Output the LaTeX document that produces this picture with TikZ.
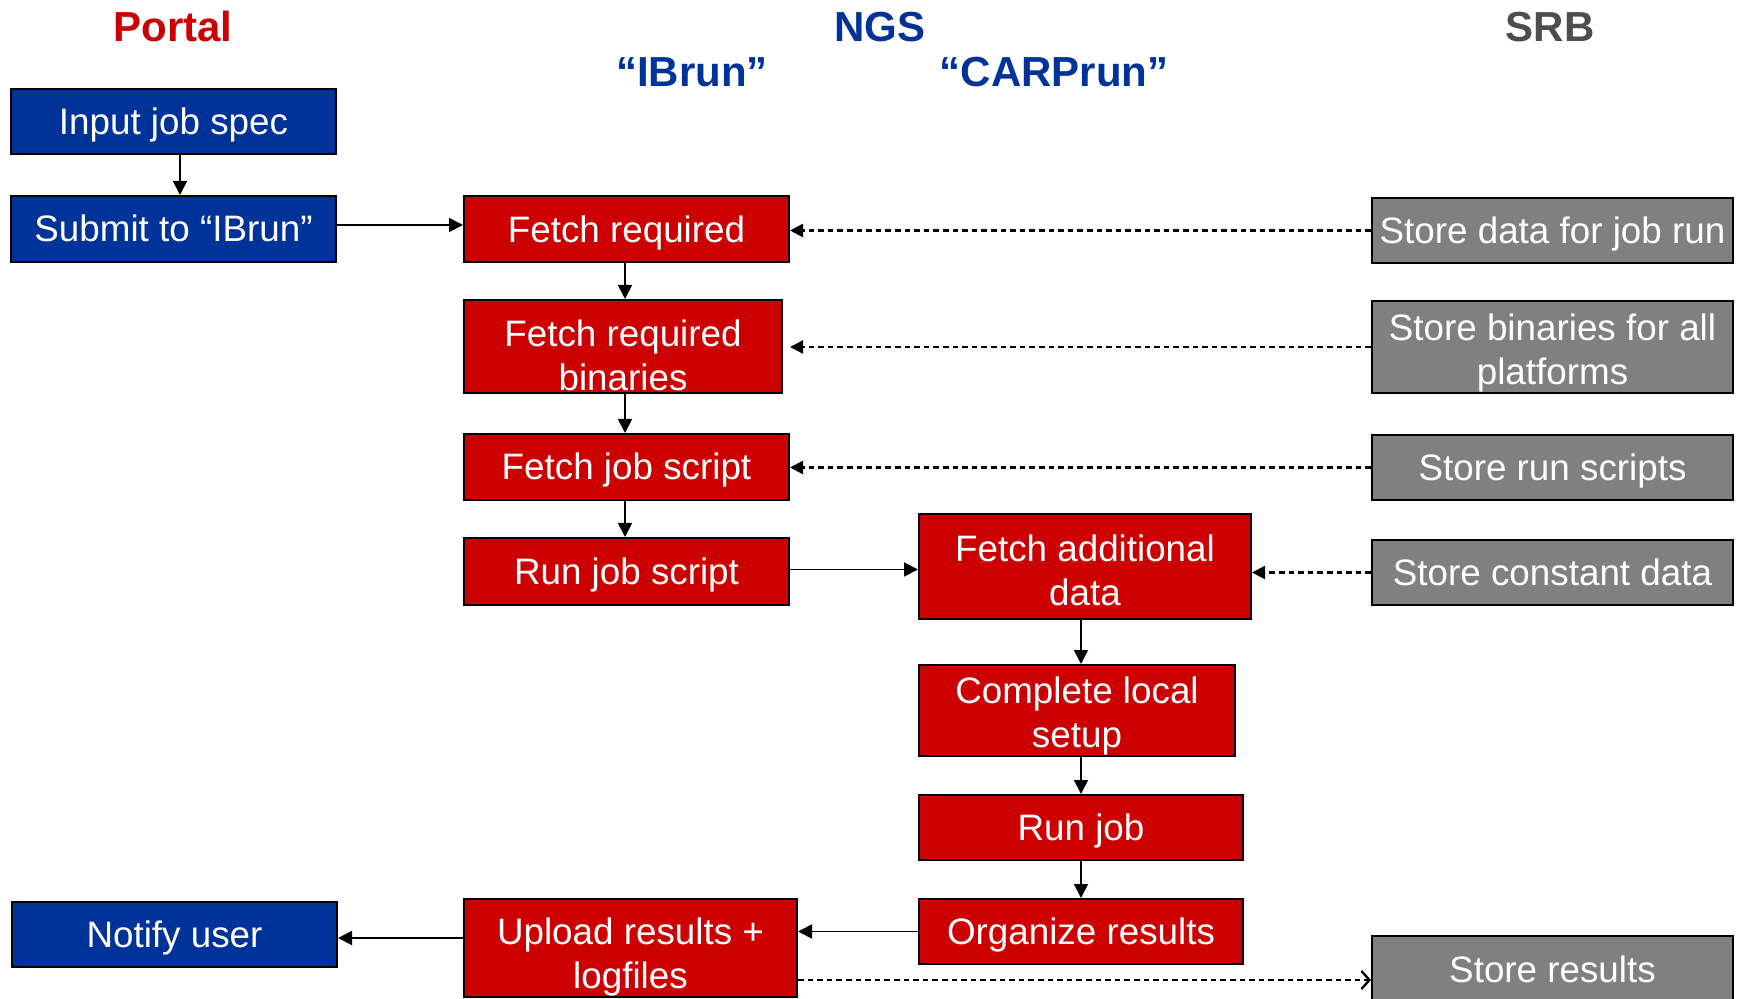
\documentclass[tikz,border=0pt]{standalone}
\usepackage{fontspec}
\setmainfont{Liberation Sans}
\usetikzlibrary{arrows.meta}
\definecolor{portalblue}{HTML}{003399}
\definecolor{ngsred}{HTML}{CC0000}
\definecolor{srbgray}{HTML}{808080}
\definecolor{srbtitle}{HTML}{4D4D4D}

% box label, set lower by #1 while the box keeps its centred size
\newcommand{\boxlabel}[2][2pt]{\raisebox{-#1}[\height][\depth]{\begin{tabular}{@{}c@{}}#2\end{tabular}}}

\begin{document}
\begin{tikzpicture}[x=0.5pt,y=-0.5pt,
  box/.style={draw=black, line width=1pt, text=white, inner sep=0pt,
              font=\fontsize{18.4}{22}\selectfont},
  portalbox/.style={box, fill=portalblue},
  ngsbox/.style={box, fill=ngsred},
  srbbox/.style={box, fill=srbgray},
  title/.style={font=\fontsize{21}{25}\selectfont\bfseries, anchor=base},
  flow/.style={line width=0.9pt, -{Triangle[length=7pt,width=7pt]}},
  fetchline/.style={line width=1.15pt, dash pattern=on 2.8pt off 2pt, -{Triangle[length=6.5pt,width=6.5pt]}},
  storeline/.style={line width=1.15pt, dash pattern=on 2.8pt off 2pt, -{Straight Barb[length=4pt,width=9pt]}},
]
\useasboundingbox (0,0) rectangle (1740,999);
\clip (0,0) rectangle (1740,999);

% column headings
\node[title, text=ngsred]      (hportal) at (173,42)  {Portal};
\node[title, text=portalblue]  (hngs)    at (880,42)  {NGS};
\node[title, text=portalblue]  (hibrun)  at (692,87)  {“IBrun”};
\node[title, text=portalblue]  (hcarp)   at (1054,87) {“CARPrun”};
\node[title, text=srbtitle]    (hsrb)    at (1550,42) {SRB};

% Portal
\node[portalbox, minimum width=162.5pt, minimum height=32.5pt] (input)  at (173.5,121.5) {\boxlabel{Input job spec}};
\node[portalbox, minimum width=162.5pt, minimum height=33pt]   (submit) at (173.5,229)   {\boxlabel{Submit to “IBrun”}};
\node[portalbox, minimum width=162.5pt, minimum height=32.5pt] (notify) at (174.5,934.5) {\boxlabel[2.2pt]{Notify user}};

% NGS: IBrun
\node[ngsbox, minimum width=162.5pt, minimum height=33pt]   (fetchreq)    at (626.5,229)   {\boxlabel[2.2pt]{Fetch required}};
\node[ngsbox, minimum width=159pt,   minimum height=46.5pt] (fetchbin)    at (623,346.5)   {\boxlabel[6.6pt]{Fetch required\\binaries}};
\node[ngsbox, minimum width=162.5pt, minimum height=33pt]   (fetchscript) at (626.5,467)   {\boxlabel{Fetch job script}};
\node[ngsbox, minimum width=162.5pt, minimum height=33.5pt] (runscript)   at (626.5,571.5) {\boxlabel{Run job script}};
\node[ngsbox, minimum width=166.5pt, minimum height=49pt]   (upload)      at (630.5,948)   {\boxlabel[4.6pt]{Upload results +\\logfiles}};

% NGS: CARPrun
\node[ngsbox, minimum width=166pt, minimum height=52.5pt] (fetchadd) at (1085,566.5) {\boxlabel[3.9pt]{Fetch additional\\data}};
\node[ngsbox, minimum width=158pt, minimum height=45.5pt] (complete) at (1077,710.5) {\boxlabel[3.3pt]{Complete local\\setup}};
\node[ngsbox, minimum width=162pt, minimum height=32.5pt] (runjob)   at (1081,827.5) {\boxlabel{Run job}};
\node[ngsbox, minimum width=162pt, minimum height=32.5pt] (organize) at (1081,931.5) {\boxlabel{Organize results}};

% SRB
\node[srbbox, minimum width=180.5pt, minimum height=32.5pt] (storedata)    at (1552.5,230.5) {\boxlabel{Store data for job run}};
\node[srbbox, minimum width=180.5pt, minimum height=46pt]   (storebin)     at (1552.5,347)   {\boxlabel[3.3pt]{Store binaries for all\\platforms}};
\node[srbbox, minimum width=180.5pt, minimum height=32.5pt] (storescripts) at (1552.5,467.5) {\boxlabel{Store run scripts}};
\node[srbbox, minimum width=180.5pt, minimum height=32.5pt] (storeconst)   at (1552.5,572.5) {\boxlabel{Store constant data}};
\node[srbbox, minimum width=180.5pt, minimum height=34pt]   (storeres)     at (1552.5,970)   {\boxlabel{Store results}};

% control flow
\draw[flow] ([xshift=3.25pt]input.south) -- ([xshift=3.25pt]submit.north);
\draw[flow] ([yshift=2pt]submit.east) -- ([yshift=2pt]fetchreq.west);
\draw[flow] ([xshift=-0.75pt]fetchreq.south) -- ([xshift=-0.75pt]fetchreq.south |- fetchbin.north);
\draw[flow] ([xshift=-0.75pt]fetchreq.south |- fetchbin.south) -- ([xshift=-0.75pt]fetchreq.south |- fetchscript.north);
\draw[flow] ([xshift=-0.75pt]fetchscript.south) -- ([xshift=-0.75pt]runscript.north);
\draw[flow] ([yshift=1pt]runscript.east) -- ([yshift=1pt]runscript.east -| fetchadd.west);
\draw[flow] (runjob.north |- fetchadd.south) -- (runjob.north |- complete.north);
\draw[flow] (runjob.north |- complete.south) -- (runjob.north);
\draw[flow] (runjob.south) -- (organize.north);
\draw[flow] (organize.west) -- (organize.west -| upload.east);
\draw[flow] ([yshift=-1.75pt]notify.east -| upload.west) -- ([yshift=-1.75pt]notify.east);

% data staged from SRB
\draw[fetchline] (storedata.west) -- (storedata.west -| fetchreq.east);
\draw[fetchline] (storebin.west) -- (storebin.west -| fetchreq.east);
\draw[fetchline] (storescripts.west) -- (storescripts.west -| fetchscript.east);
\draw[fetchline] (storeconst.west) -- (storeconst.west -| fetchadd.east);

% results pushed back to SRB
\coordinate (upout) at ([yshift=-16pt]upload.east);
\draw[storeline] (upout) -- (upout -| storeres.west);
\end{tikzpicture}
\end{document}
